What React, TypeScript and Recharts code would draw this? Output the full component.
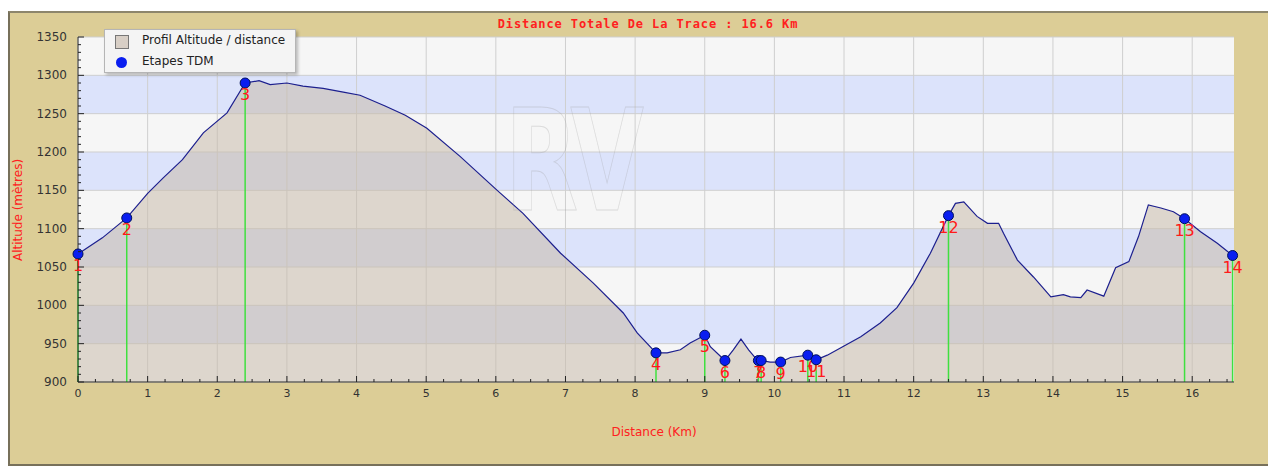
import React from "react";
import {
  ComposedChart,
  Area,
  Scatter,
  XAxis,
  YAxis,
  CartesianGrid,
  ReferenceLine,
} from "recharts";

// profile (km, metres)
const profileKm = [
  0, 0.35, 0.7, 1.0, 1.22, 1.5, 1.8, 2.14, 2.4, 2.6, 2.76, 3.0, 3.23, 3.52,
  3.81, 4.05, 4.41, 4.7, 5.01, 5.49, 6.02, 6.39, 6.93, 7.4, 7.83, 8.03, 8.3,
  8.46, 8.65, 8.79, 9.0, 9.08, 9.29, 9.41, 9.52, 9.63, 9.75, 9.77, 9.81, 9.94,
  10.09, 10.23, 10.48, 10.6, 10.76, 11.0, 11.24, 11.52, 11.76, 12.0, 12.24,
  12.5, 12.6, 12.72, 12.91, 13.06, 13.22, 13.29, 13.49, 13.72, 13.97, 14.15,
  14.25, 14.4, 14.49, 14.73, 14.9, 15.09, 15.23, 15.37, 15.55, 15.73, 15.89,
  16.12, 16.36, 16.58,
];
const profileAlt = [
  1067, 1088, 1114, 1146, 1166, 1190, 1225, 1251, 1290, 1293, 1288, 1290, 1286,
  1283, 1278, 1274, 1260, 1248, 1231, 1194, 1150, 1120, 1068, 1029, 990, 964,
  938, 938, 942, 951, 961, 946, 928, 942, 956, 942, 929, 928, 928, 926, 926,
  932, 935, 929, 935, 947, 959, 977, 997, 1029, 1068, 1117, 1133, 1135, 1116,
  1107, 1107, 1094, 1059, 1037, 1011, 1014, 1011, 1010, 1020, 1012, 1049, 1057,
  1090, 1131, 1127, 1122, 1113, 1096, 1081, 1065,
];

// étapes TDM
const stageIds = [1, 2, 3, 4, 5, 6, 7, 8, 9, 10, 11, 12, 13, 14];
const stageKm = [0, 0.7, 2.4, 8.3, 9.0, 9.29, 9.77, 9.81, 10.09, 10.48, 10.6, 12.5, 15.89, 16.58];
const stageAlt = [1067, 1114, 1290, 938, 961, 928, 928, 928, 926, 935, 929, 1117, 1113, 1065];

const xTicks = [0, 1, 2, 3, 4, 5, 6, 7, 8, 9, 10, 11, 12, 13, 14, 15, 16];
const yTicks = [900, 950, 1000, 1050, 1100, 1150, 1200, 1250, 1300, 1350];
const xMinorTicks = xTicks.flatMap((t) => [t, t + 0.25, t + 0.5, t + 0.75]).filter((t) => t <= 16.6);
const yMinorTicks = yTicks.flatMap((t) => [t, t + 10, t + 20, t + 30, t + 40]).filter((t) => t <= 1350);

const profile = profileKm.map((km, i) => ({ km, alt: profileAlt[i] }));
const stages = stageIds.map((id, i) => ({ id, km: stageKm[i], alt: stageAlt[i] }));

const FONT = "'DejaVu Sans', sans-serif";

const XTick = (props: any) => {
  const { x, y, payload } = props;
  const major = xTicks.includes(payload.value);
  return (
    <g>
      <line x1={x} y1={y} x2={x} y2={y - (major ? 6 : 3)} stroke="#222" />
      {major && (
        <text x={x} y={y + 15} textAnchor="middle" fontSize={11} fontFamily={FONT} fill="#333">
          {payload.value}
        </text>
      )}
    </g>
  );
};

const YTick = (props: any) => {
  const { x, y, payload } = props;
  const major = yTicks.includes(payload.value);
  return (
    <g>
      <line x1={x} y1={y} x2={x + (major ? 6 : 3)} y2={y} stroke="#222" />
      {major && (
        <text x={x - 11} y={y + 4} textAnchor="end" fontSize={12} fontFamily={FONT} fill="#333">
          {payload.value}
        </text>
      )}
    </g>
  );
};

const StageDot = (props: any) => {
  const { cx, cy, payload } = props;
  return (
    <g>
      <circle cx={cx} cy={cy} r={5} fill="#0a1ef0" stroke="#00105a" strokeWidth={1} />
      <text x={cx} y={cy + 17} textAnchor="middle" fontSize={16} fontFamily={FONT} fill="#ff1a1a">
        {payload.id}
      </text>
    </g>
  );
};

export default function App() {
  return (
    <div style={{ position: "absolute", left: 0, top: 0, width: 1268, height: 470, background: "#fff", overflow: "hidden" }}>
      <div
        style={{
          position: "absolute",
          left: 8,
          top: 11,
          width: 1262,
          height: 451,
          background: "#dccd96",
          borderTop: "2px solid #8d866c",
          borderLeft: "2px solid #77705a",
          borderBottom: "2px solid #77705a",
        }}
      />
      <div style={{ position: "absolute", left: 0, top: 0 }}>
        <ComposedChart width={1268} height={470} data={profile} margin={{ top: 37, right: 34, bottom: 58, left: 18 }}>
          <CartesianGrid
            stroke="#cfcfcf"
            horizontalValues={yTicks}
            verticalValues={xTicks}
            horizontalFill={["#f6f6f6", "#dce3fb"]}
            fillOpacity={1}
          />
          <XAxis
            dataKey="km"
            type="number"
            domain={[0, 16.6]}
            ticks={xMinorTicks}
            interval={0}
            height={30}
            tickSize={0}
            tickMargin={0}
            tick={<XTick />}
            tickLine={false}
            axisLine={{ stroke: "#333" }}
          />
          <YAxis
            type="number"
            domain={[900, 1350]}
            ticks={yMinorTicks}
            interval={0}
            width={60}
            tickSize={0}
            tickMargin={0}
            tick={<YTick />}
            tickLine={false}
            axisLine={{ stroke: "#333" }}
          />
          <Area
            type="linear"
            dataKey="alt"
            stroke="#1c1f8e"
            strokeWidth={1.2}
            fill="#c8bbac"
            fillOpacity={0.55}
            isAnimationActive={false}
          />
          {stages.map((s) => (
            <ReferenceLine
              key={s.id}
              segment={[
                { x: s.km, y: yTicks[0] },
                { x: s.km, y: s.alt },
              ]}
              stroke="#3fe03f"
              strokeWidth={1.5}
            />
          ))}
          <Scatter data={stages} dataKey="alt" shape={<StageDot />} isAnimationActive={false} />
        </ComposedChart>
      </div>
      <div
        style={{
          position: "absolute",
          left: 505,
          top: 92,
          fontFamily: FONT,
          fontWeight: "bold",
          fontSize: 140,
          lineHeight: "140px",
          letterSpacing: -12,
          color: "transparent",
          WebkitTextStroke: "1px rgba(160,160,160,0.3)",
          transform: "scaleX(0.68)",
          transformOrigin: "left top",
          pointerEvents: "none",
        }}
      >
        RV
      </div>
      <div
        style={{
          position: "absolute",
          left: 0,
          width: 1296,
          top: 17,
          textAlign: "center",
          fontFamily: "'DejaVu Sans Mono', monospace",
          fontWeight: "bold",
          fontSize: 12,
          letterSpacing: 0.9,
          color: "#ff2020",
        }}
      >
        Distance Totale De La Trace : 16.6 Km
      </div>
      <div
        style={{
          position: "absolute",
          left: 18,
          top: 210,
          transform: "translate(-50%, -50%) rotate(-90deg)",
          whiteSpace: "nowrap",
          fontFamily: FONT,
          fontSize: 12,
          color: "#ff2020",
        }}
      >
        Altitude (mètres)
      </div>
      <div
        style={{
          position: "absolute",
          left: 654,
          top: 432,
          transform: "translate(-50%, -50%)",
          whiteSpace: "nowrap",
          fontFamily: FONT,
          fontSize: 12,
          color: "#ff2020",
        }}
      >
        Distance (Km)
      </div>
      <div
        style={{
          position: "absolute",
          left: 104,
          top: 29,
          width: 190,
          height: 42,
          background: "#f4f4f4",
          border: "1px solid #b5b5b5",
          boxShadow: "2px 2px 3px rgba(0,0,0,0.25)",
          fontFamily: FONT,
          fontSize: 12,
          color: "#222",
        }}
      >
        <div style={{ position: "absolute", left: 10, top: 5, width: 12, height: 12, background: "#d8cfc6", border: "1px solid #777" }} />
        <div style={{ position: "absolute", left: 37, top: 3 }}>Profil Altitude / distance</div>
        <div style={{ position: "absolute", left: 11, top: 27, width: 11, height: 11, borderRadius: "50%", background: "#0a1ef0" }} />
        <div style={{ position: "absolute", left: 37, top: 24 }}>Etapes TDM</div>
      </div>
    </div>
  );
}
